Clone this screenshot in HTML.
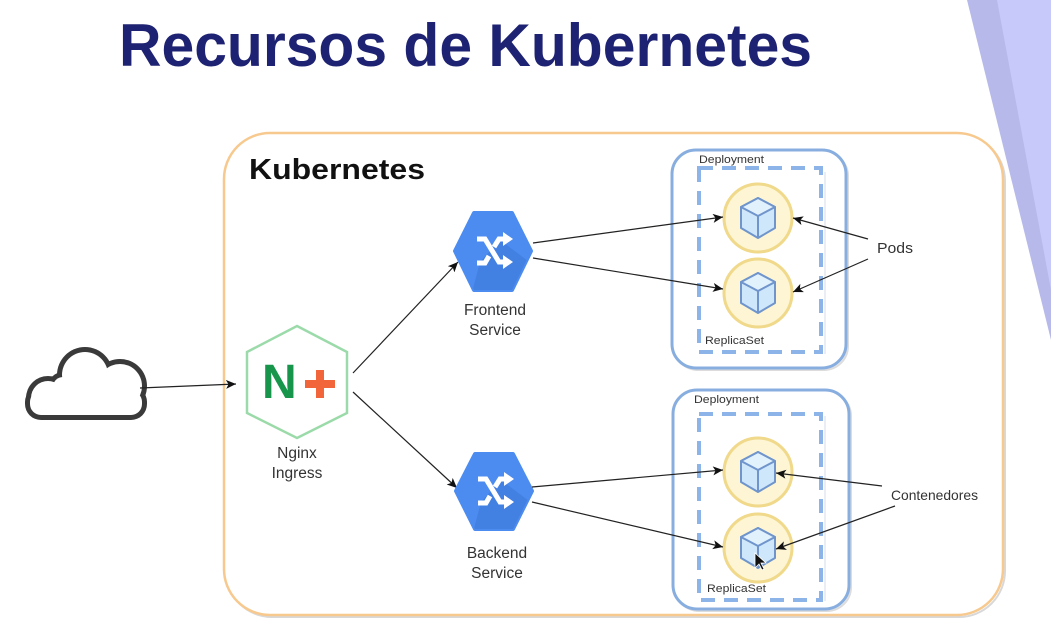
<!DOCTYPE html>
<html>
<head>
<meta charset="utf-8">
<style>
  html,body{margin:0;padding:0;background:#fff;}
  body{width:1051px;height:634px;overflow:hidden;}
  svg{display:block;}
  text{font-family:"Liberation Sans",Arial,sans-serif;}
</style>
</head>
<body>
<svg width="1051" height="634" viewBox="0 0 1051 634" xmlns="http://www.w3.org/2000/svg">
  <defs>
    <marker id="ah" markerWidth="12" markerHeight="10" refX="10" refY="4.5" orient="auto" markerUnits="userSpaceOnUse">
      <path d="M0,0 L10,4.5 L0,9 L2.5,4.5 Z" fill="#111"/>
    </marker>
    <clipPath id="hexF"><polygon points="455,251 474,213 512,213 531,251 512,290 474,290"/></clipPath>
    <clipPath id="hexB"><polygon points="456,491 475,454 513,454 532,491 513,529 475,529"/></clipPath>
  </defs>

  <!-- purple decorative stripes -->
  <polygon points="967,0 1051,0 1051,340" fill="#b7b9ea"/>
  <polygon points="997,0 1051,0 1051,290" fill="#c8c9fb"/>

  <!-- title -->
  <text x="119" y="66" font-size="60" font-weight="bold" fill="#1e2272" textLength="693" lengthAdjust="spacingAndGlyphs">Recursos de Kubernetes</text>

  <!-- Kubernetes container -->
  <rect x="226" y="135" width="779" height="482" rx="46" ry="46" fill="none" stroke="#d8d8d8" stroke-width="2"/>
  <rect x="224" y="133" width="779" height="482" rx="46" ry="46" fill="#fff" stroke="#f7c98e" stroke-width="2.5"/>
  <text x="249" y="179" font-size="29" font-weight="bold" fill="#111" textLength="176" lengthAdjust="spacingAndGlyphs">Kubernetes</text>

  <!-- cloud -->
  <g fill="#3a3a3a">
    <rect x="25" y="386" width="122" height="34" rx="16"/>
    <circle cx="85" cy="375" r="28"/>
    <circle cx="120" cy="386" r="27"/>
    <circle cx="48" cy="398" r="22"/>
    <circle cx="63" cy="387" r="15"/>
  </g>
  <g fill="#fff">
    <rect x="30" y="391" width="112" height="24" rx="11"/>
    <circle cx="85" cy="375" r="23"/>
    <circle cx="120" cy="386" r="22"/>
    <circle cx="48" cy="398" r="17"/>
    <circle cx="63" cy="387" r="10"/>
  </g>

  <!-- cloud -> nginx -->
  <line x1="140" y1="388" x2="236" y2="384" stroke="#222" stroke-width="1.3" marker-end="url(#ah)"/>

  <!-- Nginx hexagon -->
  <polygon points="297,326 347,352 347,413 297,438 247,413 247,352" fill="#fff" stroke="#9bdaa9" stroke-width="2.5"/>
  <text x="262" y="398" font-size="48" font-weight="bold" fill="#17964b">N</text>
  <rect x="305" y="380" width="30" height="8" fill="#f2653a"/>
  <rect x="316" y="370" width="8" height="28" fill="#f2653a"/>
  <text x="297" y="458" font-size="15.5" fill="#333" text-anchor="middle">Nginx</text>
  <text x="297" y="478" font-size="15.5" fill="#333" text-anchor="middle">Ingress</text>

  <!-- nginx -> services -->
  <line x1="353" y1="373" x2="458" y2="262" stroke="#222" stroke-width="1.2" marker-end="url(#ah)"/>
  <line x1="353" y1="392" x2="457" y2="488" stroke="#222" stroke-width="1.2" marker-end="url(#ah)"/>

  <!-- Frontend service -->
  <polygon points="455,251 474,213 512,213 531,251 512,290 474,290" fill="#4c8cf0" stroke="#4c8cf0" stroke-width="4" stroke-linejoin="round"/>
  <g clip-path="url(#hexF)"><polygon points="500,240 540,270 540,300 470,300 480,262" fill="#3f7bdc" opacity="0.7"/></g>
  <g stroke="#fff" stroke-width="5" fill="none" stroke-linejoin="miter">
    <polyline points="477,239 485,239 499,262 504,262"/>
    <polyline points="477,263 485,263 489,256"/>
    <polyline points="494,247 499,239 504,239"/>
  </g>
  <polygon points="503,232 513,239 503,246" fill="#fff"/>
  <polygon points="503,255 513,262 503,269" fill="#fff"/>
  <text x="495" y="315" font-size="15.5" fill="#333" text-anchor="middle">Frontend</text>
  <text x="495" y="335" font-size="15.5" fill="#333" text-anchor="middle">Service</text>

  <!-- Backend service -->
  <polygon points="456,491 475,454 513,454 532,491 513,529 475,529" fill="#4c8cf0" stroke="#4c8cf0" stroke-width="4" stroke-linejoin="round"/>
  <g clip-path="url(#hexB)"><polygon points="501,480 541,510 541,540 471,540 481,502" fill="#3f7bdc" opacity="0.7"/></g>
  <g stroke="#fff" stroke-width="5" fill="none">
    <polyline points="478,479 486,479 500,502 505,502"/>
    <polyline points="478,503 486,503 490,496"/>
    <polyline points="495,487 500,479 505,479"/>
  </g>
  <polygon points="504,472 514,479 504,486" fill="#fff"/>
  <polygon points="504,495 514,502 504,509" fill="#fff"/>
  <text x="497" y="558" font-size="15.5" fill="#333" text-anchor="middle">Backend</text>
  <text x="497" y="578" font-size="15.5" fill="#333" text-anchor="middle">Service</text>

  <!-- Top Deployment -->
  <rect x="674" y="152" width="174" height="218" rx="24" fill="none" stroke="#dcdcdc" stroke-width="2"/>
  <rect x="672" y="150" width="174" height="218" rx="24" fill="#fff" stroke="#88aee0" stroke-width="3"/>
  <text x="699" y="163" font-size="11" fill="#333" textLength="65" lengthAdjust="spacingAndGlyphs">Deployment</text>
  <line x1="825" y1="172" x2="825" y2="354" stroke="#d6dde8" stroke-width="1"/>
  <rect x="699" y="168" width="122" height="184" fill="none" stroke="#8db4e8" stroke-width="4" stroke-dasharray="14 9"/>
  <text x="705" y="344" font-size="11" fill="#333" textLength="59" lengthAdjust="spacingAndGlyphs">ReplicaSet</text>

  <!-- Bottom Deployment -->
  <rect x="675" y="392" width="176" height="219" rx="24" fill="none" stroke="#dcdcdc" stroke-width="2"/>
  <rect x="673" y="390" width="176" height="219" rx="24" fill="#fff" stroke="#88aee0" stroke-width="3"/>
  <text x="694" y="403" font-size="11" fill="#333" textLength="65" lengthAdjust="spacingAndGlyphs">Deployment</text>
  <line x1="825" y1="416" x2="825" y2="601" stroke="#d6dde8" stroke-width="1"/>
  <rect x="699" y="414" width="122" height="186" fill="none" stroke="#8db4e8" stroke-width="4" stroke-dasharray="14 9"/>
  <text x="707" y="592" font-size="11" fill="#333" textLength="59" lengthAdjust="spacingAndGlyphs">ReplicaSet</text>

  <!-- pods -->
  <g id="pods">
    <!-- pod 1 -->
    <circle cx="758" cy="218" r="34" fill="#fdf5d3" stroke="#f0d98a" stroke-width="3"/>
    <g transform="translate(758,218)">
      <polygon points="0,-20 17,-11 17,10 0,20 -17,10 -17,-11" fill="#cfe7fa" stroke="#6f95cc" stroke-width="2" stroke-linejoin="round"/>
      <polygon points="0,-20 17,-11 0,-2 -17,-11" fill="#e2f2fd" stroke="#6f95cc" stroke-width="2" stroke-linejoin="round"/>
      <line x1="0" y1="-2" x2="0" y2="20" stroke="#6f95cc" stroke-width="2"/>
    </g>
    <!-- pod 2 -->
    <circle cx="758" cy="293" r="34" fill="#fdf5d3" stroke="#f0d98a" stroke-width="3"/>
    <g transform="translate(758,293)">
      <polygon points="0,-20 17,-11 17,10 0,20 -17,10 -17,-11" fill="#cfe7fa" stroke="#6f95cc" stroke-width="2" stroke-linejoin="round"/>
      <polygon points="0,-20 17,-11 0,-2 -17,-11" fill="#e2f2fd" stroke="#6f95cc" stroke-width="2" stroke-linejoin="round"/>
      <line x1="0" y1="-2" x2="0" y2="20" stroke="#6f95cc" stroke-width="2"/>
    </g>
    <!-- pod 3 -->
    <circle cx="758" cy="472" r="34" fill="#fdf5d3" stroke="#f0d98a" stroke-width="3"/>
    <g transform="translate(758,472)">
      <polygon points="0,-20 17,-11 17,10 0,20 -17,10 -17,-11" fill="#cfe7fa" stroke="#6f95cc" stroke-width="2" stroke-linejoin="round"/>
      <polygon points="0,-20 17,-11 0,-2 -17,-11" fill="#e2f2fd" stroke="#6f95cc" stroke-width="2" stroke-linejoin="round"/>
      <line x1="0" y1="-2" x2="0" y2="20" stroke="#6f95cc" stroke-width="2"/>
    </g>
    <!-- pod 4 -->
    <circle cx="758" cy="548" r="34" fill="#fdf5d3" stroke="#f0d98a" stroke-width="3"/>
    <g transform="translate(758,548)">
      <polygon points="0,-20 17,-11 17,10 0,20 -17,10 -17,-11" fill="#cfe7fa" stroke="#6f95cc" stroke-width="2" stroke-linejoin="round"/>
      <polygon points="0,-20 17,-11 0,-2 -17,-11" fill="#e2f2fd" stroke="#6f95cc" stroke-width="2" stroke-linejoin="round"/>
      <line x1="0" y1="-2" x2="0" y2="20" stroke="#6f95cc" stroke-width="2"/>
    </g>
  </g>

  <!-- cursor -->
  <polygon points="755,553 755,568 759,564 762,570 764,569 761,563 766,563" fill="#111" stroke="#fff" stroke-width="0.8"/>

  <!-- service -> pods arrows -->
  <line x1="533" y1="243" x2="723" y2="217" stroke="#222" stroke-width="1.2" marker-end="url(#ah)"/>
  <line x1="533" y1="258" x2="723" y2="289" stroke="#222" stroke-width="1.2" marker-end="url(#ah)"/>
  <line x1="532" y1="487" x2="723" y2="470" stroke="#222" stroke-width="1.2" marker-end="url(#ah)"/>
  <line x1="532" y1="502" x2="723" y2="547" stroke="#222" stroke-width="1.2" marker-end="url(#ah)"/>

  <!-- labels with arrows -->
  <text x="877" y="253" font-size="15" fill="#333" textLength="36" lengthAdjust="spacingAndGlyphs">Pods</text>
  <line x1="868" y1="239" x2="793" y2="218" stroke="#222" stroke-width="1.2" marker-end="url(#ah)"/>
  <line x1="868" y1="259" x2="793" y2="292" stroke="#222" stroke-width="1.2" marker-end="url(#ah)"/>

  <text x="891" y="500" font-size="14" fill="#333" textLength="87" lengthAdjust="spacingAndGlyphs">Contenedores</text>
  <line x1="882" y1="486" x2="776" y2="473" stroke="#222" stroke-width="1.2" marker-end="url(#ah)"/>
  <line x1="895" y1="506" x2="776" y2="549" stroke="#222" stroke-width="1.2" marker-end="url(#ah)"/>
</svg>
</body>
</html>
